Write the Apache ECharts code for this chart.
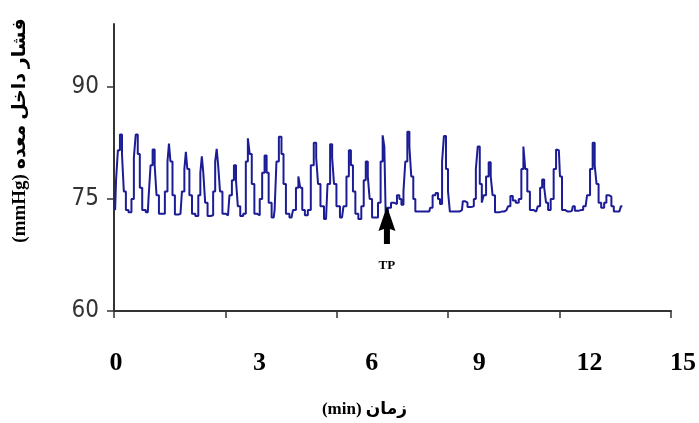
<!DOCTYPE html>
<html>
<head>
<meta charset="utf-8">
<script src="https://cdn.jsdelivr.net/npm/echarts@6/dist/echarts.min.js"></script>
<style>
html,body{margin:0;padding:0;background:#fff;}
#chart{width:699px;height:423px;}
</style>
</head>
<body>
<div id="chart"></div>
<script>
// time (min)
var times = [0.03,0.08,0.13,0.19,0.24,0.29,0.35,0.43,0.51,0.56,
0.61,0.67,0.72,0.80,0.91,0.96,1.01,1.07,1.12,1.17,
1.25,1.33,1.41,1.47,1.49,1.55,1.60,1.68,1.79,1.87,
1.92,1.95,2.00,2.06,2.14,2.24,2.30,2.35,2.38,2.43,
2.48,2.56,2.64,2.70,2.75,2.78,2.83,2.88,2.96,3.07,
3.15,3.20,3.26,3.31,3.36,3.44,3.52,3.58,3.63,3.68,
3.74,3.82,3.90,3.95,4.03,4.08,4.14,4.19,4.30,4.35,
4.40,4.48,4.54,4.59,4.67,4.78,4.86,4.94,4.99,5.04,
5.10,5.18,5.26,5.34,5.42,5.47,5.52,5.60,5.71,5.79,
5.85,5.90,5.95,6.03,6.14,6.22,6.30,6.35,6.41,6.46,
6.54,6.62,6.70,6.75,6.81,6.86,6.91,6.99,7.07,7.15,
7.21,7.26,7.30,7.33,7.42,7.50,7.58,7.66,7.71,7.77,
7.82,7.87,7.93,7.98,8.03,8.09,8.14,8.30,8.49,8.54,
8.62,8.70,8.75,8.81,8.86,8.91,8.97,9.02,9.07,9.23,
9.37,9.42,9.48,9.56,9.66,9.72,9.77,9.82,9.88,9.93,
9.98,10.06,10.12,10.17,10.22,10.30,10.44,10.57,10.65,10.70,
10.78,10.86,10.94,11.00,11.05,11.10,11.16,11.24,11.37,11.45,
11.50,11.56,11.61,11.66,11.72,11.80,11.88,11.93,11.98,12.04,
12.09,12.22,12.33,12.38,12.44,12.57,12.70,12.78,12.86,12.92,
12.97,13.02,13.08,13.16,13.24,13.28,13.37,13.42,13.50,13.61,
13.69];
// intragastric pressure (mmHg)
var pressures = [73.5,77.5,81.5,83.6,81,76,73.5,73.2,75,80.5,
83.6,81,76.5,73.5,73.2,75.5,79.5,81.6,79.5,75.5,
73,73,76,80,82.4,80,75.5,72.9,73,76,
79,81.3,79,75.5,73,72.7,75.5,78.5,80.7,78.5,
74.5,72.7,72.8,76,80,81.7,79.5,76,73,72.8,
75.5,77.5,79.5,77.5,74,72.7,73,80,83.1,81,
77,73,72.8,75,78.5,80.8,78.5,74.5,72.5,73.5,
80,83.3,81,77,73,72.5,73.5,76.5,78,76.5,
73.5,72.8,73.5,79.5,82.5,80.5,77,74,72.3,77,
82.3,80.5,77,74,72.5,74,78,81.5,79.5,76,
73,72.3,74,77.5,80,78,75,72.5,72.5,74.5,
80,83.5,82,73.2,73.8,74.5,74.3,75.5,75,74.2,
76,80,84,82,78,75,73.3,73.3,73.3,73.8,
75.5,75.8,75,74.3,80,83.4,79,76,73.3,73.3,
73.5,74.7,74.5,73.9,74,75,79,82,77,74.5,
75.5,78,79.9,78,75.5,73.2,73.3,73.5,74,75.4,
74.8,74.5,75,79,82,79,76,73.5,73.3,74,
76.5,77.6,76.5,74.5,73.5,75,79,81.6,81.5,78,
73.5,73.3,73.4,74,73.4,73.5,74,75.5,79,82.5,
79.5,77,74.5,73.8,74.5,75.5,75.3,74,73.3,73.3,
74];
var xTickLabels = ['0','3','6','9','12','15'];
var yTickValues = [60,75,90];
var tpLabel = 'TP';
var tpTime = 7.35;

var seriesData = times.map(function(t,i){ return [t, pressures[i]]; });

// label shifts (styling only) to mimic the original's offset tick labels
var labelShift = [2,34,35,31,30,12];
var rich = {};
labelShift.forEach(function(s,i){
  rich['r'+i] = {fontFamily:'Liberation Serif', fontWeight:'bold', fontSize:26, color:'#000', padding:[0,0,0,2*s]};
});

var chart = echarts.init(document.getElementById('chart'));
chart.setOption({
  animation:false,
  backgroundColor:'#fff',
  grid:{left:114, right:23, top:24, bottom:111},
  xAxis:{
    type:'value', min:0, max:15, interval:3,
    name:'(min) زمان',
    nameLocation:'middle', nameGap:90,
    nameTextStyle:{fontFamily:'Liberation Serif, DejaVu Sans', fontWeight:'bold', fontSize:17, color:'#000', padding:[0,56,0,0]},
    axisLine:{lineStyle:{color:'#333', width:2}},
    axisTick:{show:true, length:7, lineStyle:{color:'#333', width:1.5}},
    splitLine:{show:false},
    axisLabel:{
      margin:39,
      formatter:function(v){ var i=Math.round(v/3); return '{r'+i+'|'+xTickLabels[i]+'}'; },
      rich:rich
    }
  },
  yAxis:{
    type:'value', min:60, max:98.4, interval:15,
    name:'(mmHg) فشار داخل معده',
    nameLocation:'middle', nameRotate:90, nameGap:84,
    nameTextStyle:{fontFamily:'Liberation Serif, DejaVu Sans', fontWeight:'bold', fontSize:19, color:'#000', padding:[0,0,0,74]},
    axisLine:{show:true, lineStyle:{color:'#333', width:2}},
    axisTick:{show:true, length:7, customValues:yTickValues, lineStyle:{color:'#333', width:1.5}},
    splitLine:{show:false},
    axisLabel:{
      customValues:yTickValues,
      margin:15,
      fontFamily:'Liberation Sans Narrow, DejaVu Sans Condensed, sans-serif',
      fontSize:24, color:'#333'
    }
  },
  series:[{
    type:'line',
    data:seriesData,
    step:'middle',
    showSymbol:false,
    lineStyle:{color:'#1c1c96', width:2},
    markPoint:{
      silent:true,
      animation:false,
      data:[
        {coord:[tpTime,71.5], symbol:'path://M8.5,0 L17,25 L11.5,23 L11.5,38 L5.5,38 L5.5,23 L0,25 Z',
         symbolSize:[17,38], itemStyle:{color:'#000'}, label:{show:false}},
        {coord:[tpTime,66.1], symbol:'circle', symbolSize:1, itemStyle:{color:'rgba(0,0,0,0)'},
         label:{show:true, position:'inside', formatter:tpLabel, color:'#000', fontFamily:'Liberation Serif', fontWeight:'bold', fontSize:13}}
      ]
    }
  }]
});
</script>
</body>
</html>
